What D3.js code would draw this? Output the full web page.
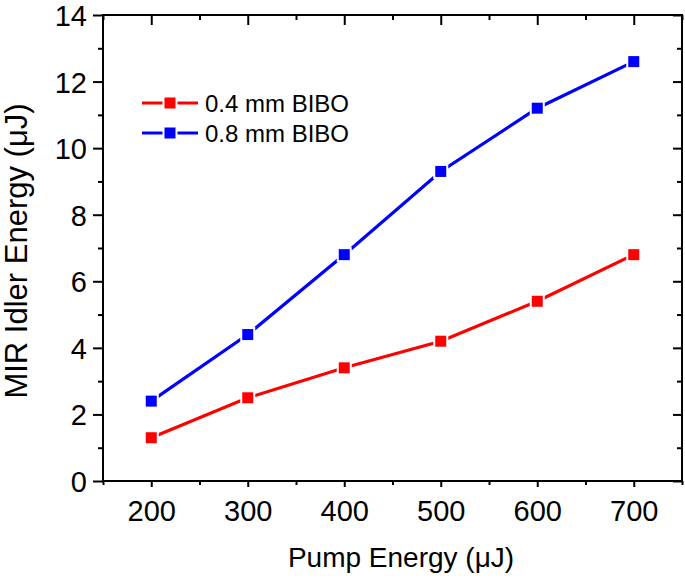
<!DOCTYPE html>
<html><head><meta charset="utf-8">
<script src="https://cdn.jsdelivr.net/npm/d3@7"></script>
<style>body{margin:0;background:#fff}svg{display:block}text{font-family:"Liberation Sans",Arial,sans-serif;fill:#000}</style>
</head><body>
<script>
const pumpEnergy = [200, 300, 400, 500, 600, 700];
const bibo04 = [1.3, 2.5, 3.4, 4.2, 5.4, 6.8];
const bibo08 = [2.4, 4.4, 6.8, 9.3, 11.2, 12.6];
const seriesNames = ["0.4 mm BIBO", "0.8 mm BIBO"];
const seriesColors = ["#ff0000", "#0000ff"];
const xTicks = [200, 300, 400, 500, 600, 700];
const xMinor = [150, 250, 350, 450, 550, 650, 750];
const yTicks = [0, 2, 4, 6, 8, 10, 12, 14];
const yMinor = [1, 3, 5, 7, 9, 11, 13];

const W = 685, H = 581;
const L = 103, R = 682, T = 15, B = 481;
const svg = d3.select("body").append("svg").attr("width", W).attr("height", H);
const x = d3.scaleLinear().domain([150, 750]).range([L, R]);
const y = d3.scaleLinear().domain([0, 14]).range([B, T]);

function axis(gen, tr, ticks, size, labels) {
  const g = svg.append("g").attr("transform", tr)
    .call(gen.tickValues(ticks).tickSize(size).tickSizeOuter(0).tickPadding(labels ? 6 : 0)
      .tickFormat(labels ? d3.format("d") : ""));
  g.select(".domain").remove();
  g.selectAll("line").attr("stroke", "#000").attr("stroke-width", 2);
  g.selectAll("text").style("font-size", "29px").style("font-family", "Liberation Sans, Arial, sans-serif");
  return g;
}
// bottom
const gb = axis(d3.axisBottom(x), `translate(0,${B})`, xTicks, 6, true);
gb.selectAll("text").attr("dy", null).attr("y", 40);
axis(d3.axisBottom(x), `translate(0,${B})`, xMinor, 4, false);
// top (inward)
axis(d3.axisBottom(x), `translate(0,${T})`, xTicks, 10, false);
axis(d3.axisBottom(x), `translate(0,${T})`, xMinor, 5, false);
// left
const gl = axis(d3.axisLeft(y), `translate(${L},0)`, yTicks, 10, true);
gl.selectAll("text").attr("dy", "0.36em");
axis(d3.axisLeft(y), `translate(${L},0)`, yMinor, 5, false);
// right (inward)
axis(d3.axisLeft(y), `translate(${R},0)`, yTicks, 9, false);
axis(d3.axisLeft(y), `translate(${R},0)`, yMinor, 5, false);

// frame
svg.append("rect").attr("x", L).attr("y", T).attr("width", R - L).attr("height", B - T)
  .attr("fill", "none").attr("stroke", "#000").attr("stroke-width", 2);

// series
const series = [bibo04, bibo08];
const line = d3.line().x((d, i) => x(pumpEnergy[i])).y(d => y(d));
series.forEach((vals, k) => {
  svg.append("path").datum(vals).attr("d", line).attr("fill", "none")
    .attr("stroke", seriesColors[k]).attr("stroke-width", 3.2);
  const g = svg.append("g");
  g.selectAll("rect.bg").data(vals).join("rect").attr("class", "bg")
    .attr("x", (d, i) => x(pumpEnergy[i]) - 7.5).attr("y", d => y(d) - 7.5)
    .attr("width", 15).attr("height", 15).attr("fill", "#fff");
  g.selectAll("rect.fg").data(vals).join("rect").attr("class", "fg")
    .attr("x", (d, i) => x(pumpEnergy[i]) - 5.5).attr("y", d => y(d) - 5.5)
    .attr("width", 11).attr("height", 11).attr("fill", seriesColors[k]);
});

// legend
seriesNames.forEach((name, k) => {
  const ly = 103 + k * 30;
  svg.append("line").attr("x1", 142).attr("x2", 198).attr("y1", ly).attr("y2", ly)
    .attr("stroke", seriesColors[k]).attr("stroke-width", 3.2);
  svg.append("rect").attr("x", 170 - 7.5).attr("y", ly - 7.5).attr("width", 15).attr("height", 15).attr("fill", "#fff");
  svg.append("rect").attr("x", 170 - 5.5).attr("y", ly - 5.5).attr("width", 11).attr("height", 11).attr("fill", seriesColors[k]);
  svg.append("text").attr("x", 205).attr("y", ly + 8.5).style("font-size", "24px").text(name);
});

// axis titles
svg.append("text").attr("x", 401).attr("y", 567).attr("text-anchor", "middle")
  .style("font-size", "28px").text("Pump Energy (\u03bcJ)");
svg.append("text").attr("transform", "translate(27,251) rotate(-90)").attr("text-anchor", "middle")
  .style("font-size", "31px").text("MIR Idler Energy (\u03bcJ)");
</script>
</body></html>
